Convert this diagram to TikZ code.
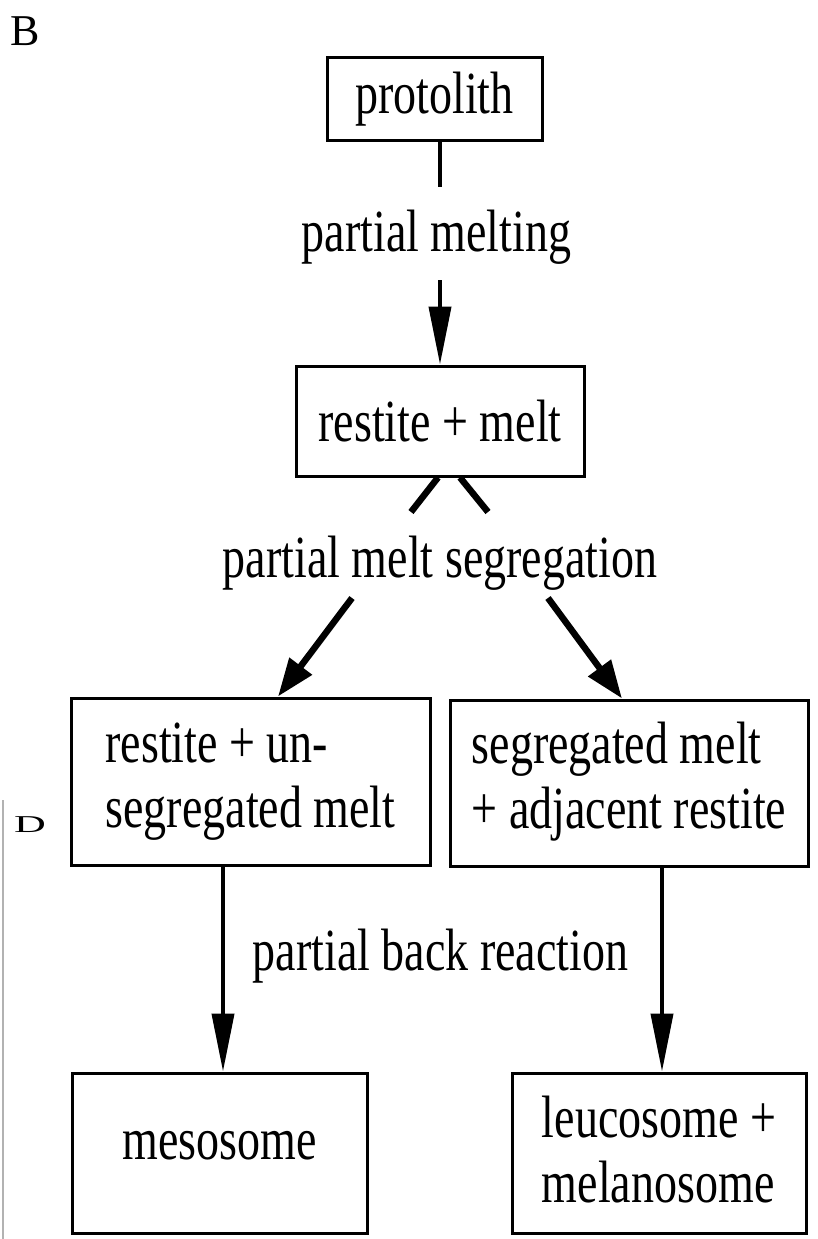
\documentclass[tikz,border=0pt]{standalone}
\usepackage{fontspec}
\setmainfont{Liberation Serif}
\usepackage{graphicx}
\usetikzlibrary{arrows.meta}
\newcommand{\stt}[1]{\scalebox{1}[1.3]{#1}}
\begin{document}
\begin{tikzpicture}[x=1pt,y=-1pt,
  box/.style={draw,line width=3pt,inner sep=0pt,font=\fontsize{46}{50}\selectfont},
  lbl/.style={inner sep=0pt,anchor=base,font=\fontsize{46}{50}\selectfont},
  vtip/.style={line width=4pt,-{Triangle[length=58pt,width=22pt]}},
  dtip/.style={line width=6.5pt,-{Triangle[length=38pt,width=27pt]}},
  stroke/.style={line width=6.5pt}]
\useasboundingbox (0,0) rectangle (817,1239);

% panel letters
\node[inner sep=0pt,font=\fontsize{44}{48}\selectfont] (lb) at (25,31.5) {\scalebox{1}[1.0]{B}};
\node[inner sep=0pt,font=\fontsize{44}{48}\selectfont] (ld) at (30,824.5) {\scalebox{1}[0.55]{D}};
\draw[gray!60,line width=1.5pt] (3,800) -- (3,1239);

% boxes
\node[box,minimum width=215pt,minimum height=82pt] (proto) at (434.5,99) {\stt{protolith}};
\node[box,minimum width=288pt,minimum height=110pt] (rm) at (440,421) {\stt{restite + melt}};
\node[box,minimum width=359pt,minimum height=167pt] (b1) at (250.5,781.5)
  {\stt{\begin{tabular}{@{}l@{}}restite + un-\\segregated melt\end{tabular}}};
\node[box,minimum width=358pt,minimum height=166pt] (b2) at (629,783)
  {\stt{\begin{tabular}{@{}l@{}}segregated melt\\+ adjacent restite\end{tabular}}};
\node[box,minimum width=295pt,minimum height=160pt] (meso) at (219.5,1153)
  {\stt{\rule[-22pt]{0pt}{53.4pt}mesosome}};
\node[box,minimum width=294pt,minimum height=160pt] (leuco) at (659,1153)
  {\stt{\begin{tabular}{@{}l@{}}\rule{0pt}{40.4pt}leucosome +\\melanosome\end{tabular}}};

% labels
\node[lbl] (pm) at (436.5,251) {\stt{partial melting}};
\node[lbl] (pms) at (440,577) {\stt{partial melt segregation}};
\node[lbl] (pbr) at (440.5,970) {\stt{partial back reaction}};

% connectors
\coordinate (c1) at (440,187);
\coordinate (c2) at (440,280);
\draw[line width=4pt] (c1 |- proto.south) -- (c1);
\draw[vtip] (c2) -- (rm.north);

\coordinate (s1) at (411,512);
\coordinate (s2) at (488,512);
\draw[stroke] ([xshift=-2pt]rm.south) -- (s1);
\draw[stroke] ([xshift=20pt]rm.south) -- (s2);

\coordinate (d1) at (352,598);
\coordinate (t1) at (278,690);
\coordinate (d2) at (548,598);
\coordinate (t2) at (622,690);
\draw[dtip] (d1) -- (t1 |- b1.north);
\draw[dtip] (d2) -- (t2 |- b2.north);

\coordinate (la) at (223,0);
\coordinate (ra) at (662,0);
\draw[vtip] (la |- b1.south) -- (la |- meso.north);
\draw[vtip] (ra |- b2.south) -- (ra |- leuco.north);
\end{tikzpicture}
\end{document}
